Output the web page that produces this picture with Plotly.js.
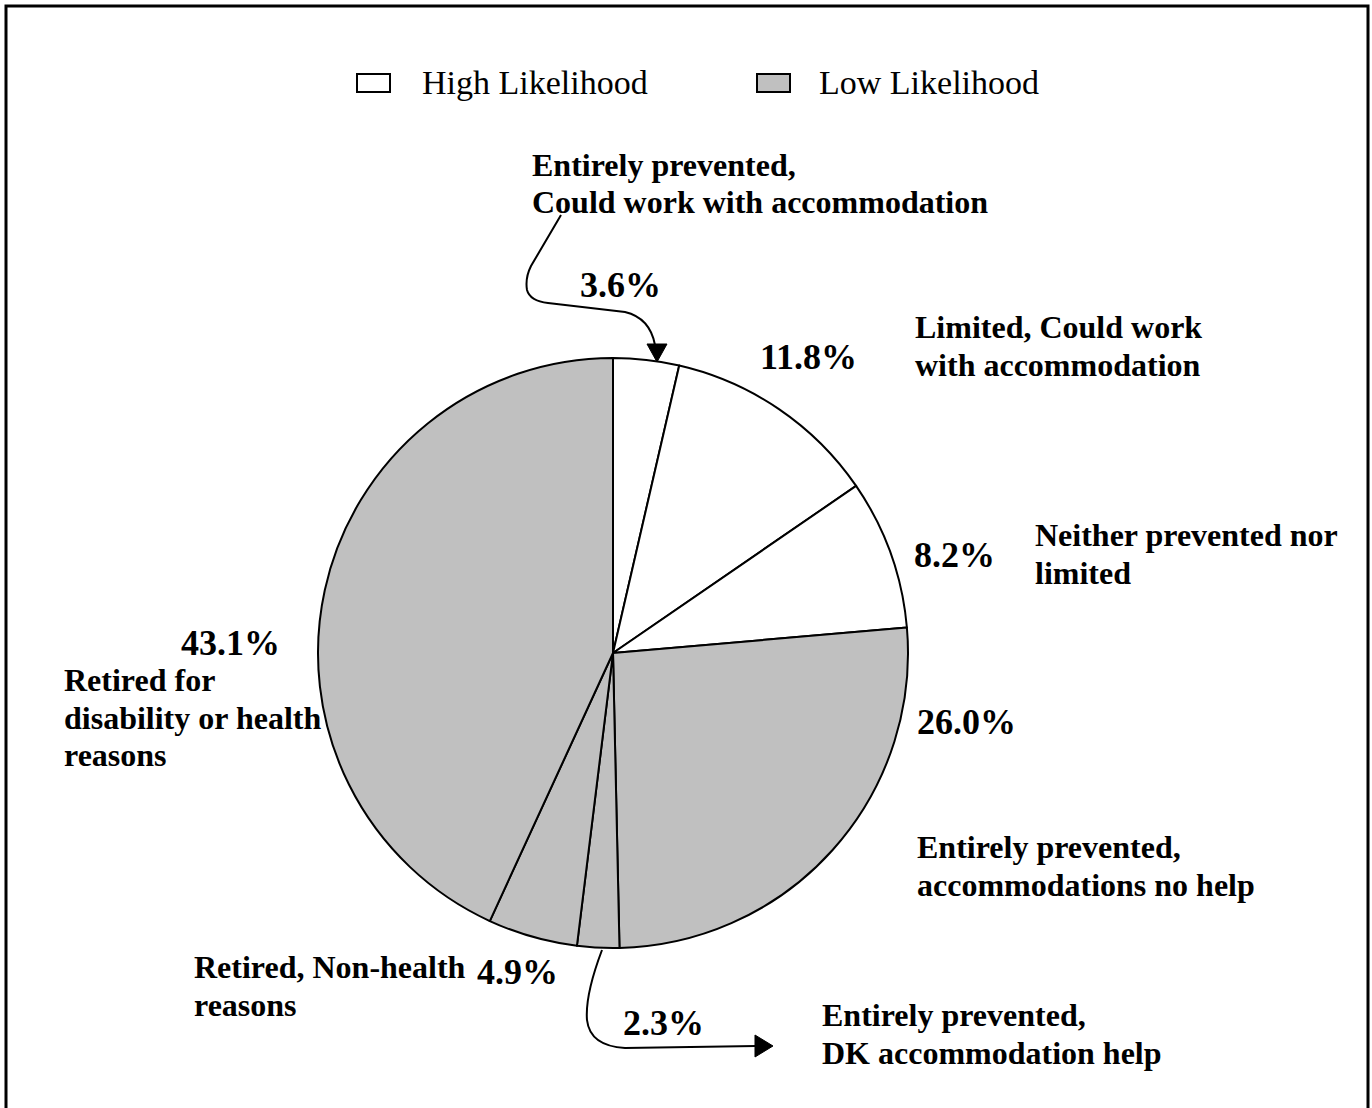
<!DOCTYPE html>
<html>
<head>
<meta charset="utf-8">
<script src="https://cdn.plot.ly/plotly-3.0.1.min.js"></script>
<style>html,body{margin:0;padding:0;background:#fff;}#chart{width:1372px;height:1108px;}</style>
</head>
<body>
<div id="chart"></div>
<script>
// ---- data ----
const categories = [
  "Entirely prevented, Could work with accommodation",
  "Limited, Could work with accommodation",
  "Neither prevented nor limited",
  "Entirely prevented, accommodations no help",
  "Entirely prevented, DK accommodation help",
  "Retired, Non-health reasons",
  "Retired for disability or health reasons"
];
const values = [3.6, 11.8, 8.2, 26.0, 2.3, 4.9, 43.1];
const likelihood = ["High", "High", "High", "Low", "Low", "Low", "Low"];
const groupNames = ["High Likelihood", "Low Likelihood"];
const labelLines = [
  ["Entirely prevented,", "Could work with accommodation"],
  ["Limited, Could work", "with accommodation"],
  ["Neither prevented nor", "limited"],
  ["Entirely prevented,", "accommodations no help"],
  ["Entirely prevented,", "DK accommodation help"],
  ["Retired, Non-health", "reasons"],
  ["Retired for", "disability or health", "reasons"]
];

// ---- layout (pixel positions) ----
const W = 1372, H = 1108;
const px = x => x / W;
const py = y => 1 - y / H;
const colors = {High: "#FFFFFF", Low: "#C0C0C0"};
const cx = 613, cy = 653, R = 295;
const SERIF = "Liberation Serif, Times New Roman, serif";

const pctPos = [[620, 285], [808, 357], [955, 555], [966, 722], [663, 1023], [517, 972], [230, 643]];
const labelPos = [[530, 165], [913, 327], [1033, 535], [915, 847], [820, 1015], [192, 967], [62, 680]];
const lineStep = 37.5;

const trace = {
  type: "pie",
  labels: categories,
  values: values,
  sort: false,
  direction: "clockwise",
  rotation: 0,
  textinfo: "none",
  hoverinfo: "label+percent",
  marker: {colors: likelihood.map(l => colors[l]), line: {color: "#000", width: 2}},
  domain: {x: [px(cx - R), px(cx + R)], y: [py(cy + R), py(cy - R)]},
  showlegend: false
};

const annotations = [];
values.forEach((v, i) => {
  annotations.push({
    xref: "paper", yref: "paper", x: px(pctPos[i][0]), y: py(pctPos[i][1]),
    xanchor: "center", yanchor: "middle", showarrow: false,
    text: "<b>" + v.toFixed(1) + "%</b>",
    font: {family: SERIF, size: 36, color: "#000"}
  });
  labelLines[i].forEach((line, k) => {
    annotations.push({
      xref: "paper", yref: "paper", x: px(labelPos[i][0]), y: py(labelPos[i][1] + k * lineStep),
      xanchor: "left", yanchor: "middle", align: "left", showarrow: false,
      text: "<b>" + line + "</b>",
      font: {family: SERIF, size: 32, color: "#000"}
    });
  });
});

// legend (manual)
const legendItems = [{box: [357, 390], text: 420, g: "High"}, {box: [757, 790], text: 817, g: "Low"}];
const shapes = [];
legendItems.forEach((it, k) => {
  shapes.push({type: "rect", xref: "paper", yref: "paper",
    x0: px(it.box[0]), x1: px(it.box[1]), y0: py(74), y1: py(92),
    fillcolor: colors[it.g], line: {color: "#000", width: 2}});
  annotations.push({xref: "paper", yref: "paper", x: px(it.text), y: py(83),
    xanchor: "left", yanchor: "middle", showarrow: false, text: groupNames[k],
    font: {family: SERIF, size: 34, color: "#000"}});
});

// outer frame
shapes.push({type: "rect", xref: "paper", yref: "paper", x0: px(6), x1: px(1368), y0: py(6), y1: py(1115),
  line: {color: "#000", width: 3}, fillcolor: "rgba(0,0,0,0)"});

// curved callout arrows
function pathFrom(cmds) {
  return cmds.map(c => c[0] + " " + c.slice(1).map((v, j) => (j % 2 === 0 ? px(v) : py(v)).toFixed(5)).join(" ")).join(" ");
}
shapes.push({type: "path", xref: "paper", yref: "paper", line: {color: "#000", width: 2},
  path: pathFrom([["M", 561, 215], ["L", 531, 266], ["Q", 525, 278, 527, 290], ["Q", 530, 301, 548, 303], ["L", 625, 312], ["Q", 650, 318, 655, 345]])});
shapes.push({type: "path", xref: "paper", yref: "paper", line: {color: "#000", width: 1}, fillcolor: "#000",
  path: pathFrom([["M", 647, 344], ["L", 667, 344], ["L", 657, 362], ["Z"]])});
shapes.push({type: "path", xref: "paper", yref: "paper", line: {color: "#000", width: 2},
  path: pathFrom([["M", 602, 950], ["Q", 585, 995, 587, 1020], ["Q", 590, 1046, 625, 1048], ["L", 756, 1046]])});
shapes.push({type: "path", xref: "paper", yref: "paper", line: {color: "#000", width: 1}, fillcolor: "#000",
  path: pathFrom([["M", 755, 1035], ["L", 755, 1057], ["L", 773, 1046], ["Z"]])});

const layout = {
  width: W, height: H,
  margin: {l: 0, r: 0, t: 0, b: 0},
  paper_bgcolor: "#fff",
  showlegend: false,
  annotations: annotations,
  shapes: shapes
};

Plotly.newPlot("chart", [trace], layout, {displayModeBar: false, staticPlot: true});
</script>
</body>
</html>
